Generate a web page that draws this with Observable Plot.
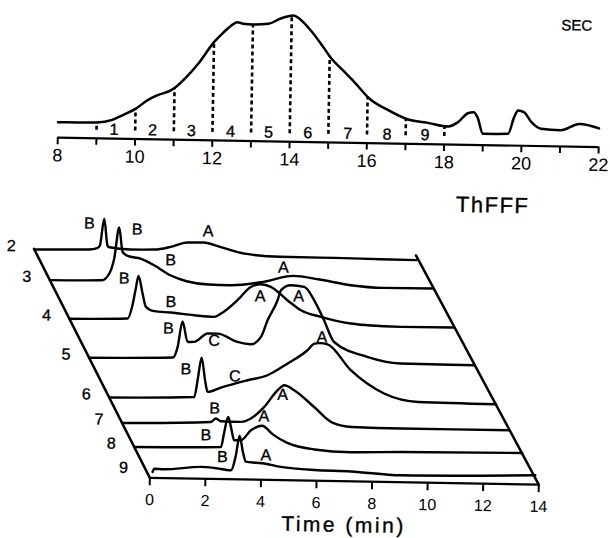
<!DOCTYPE html>
<html><head><meta charset="utf-8">
<script src="https://cdn.jsdelivr.net/npm/d3@7"></script>
<script src="https://cdn.jsdelivr.net/npm/@observablehq/plot@0.6"></script>
<style>
html,body{margin:0;padding:0;background:#fff;}
#fig{width:610px;height:538px;transform:rotate(1deg);transform-origin:305px 269px;}
#fig svg{display:block;}
</style></head><body><div id="fig"></div>
<script>
// ---------- SEC chromatogram ----------
const secTime = [8.0,8.5,9.0,9.4,9.7,10.0,10.3,10.6,10.9,11.05,11.3,11.6,12.0,12.25,12.5,12.6,12.75,13.0,13.4,13.7,14.05,14.2,14.5,14.8,15.05,15.35,15.65,16.05,16.55,17.0,17.6,18.1,18.35,18.6,18.75,18.85,19.0,19.65,19.8,19.9,20.05,20.25,20.5,21.0,21.5,22.0];
const secSignal = [15.5,15.5,15.9,18.8,24.3,30.2,38.8,44.7,49.2,53.3,62.7,76.3,98.2,108.4,116.9,118.6,117.1,116.6,117.5,122.8,126.3,123.1,111.6,96.8,83.6,72.2,60.7,44.3,33,25,21,18,22.5,31.6,32.7,27.8,11.3,11.7,28.5,35.2,33.6,23.7,17.3,16.2,22.7,18.7];
const secTickValues = [8,9,10,11,12,13,14,15,16,17,18,19,20,21,22];
const fractionBoundaries = [9,10,11,12,13,14,15,16,17,18];
const fractionNames = ["1","2","3","4","5","6","7","8","9"];
const fractionNameTime = [9.45,10.45,11.45,12.47,13.45,14.47,15.5,16.52,17.5];
const boundaryFoot = 8;
const fractionNameLevel = 9;

// ---------- ThFFF fractograms ----------
const thfffFractions = [2,3,4,5,6,7,8,9];
const thfffDepth = [226.3,195.9,157.6,119,79.6,54.4,30.6,6.6];
const boxDepth = 227;
const timeTicks = [0,2,4,6,8,10,12,14];

const row2Time = [0,1.0,2.0,2.3,2.4,2.54,2.68,2.75,3.5,4.4,5.0,5.6,6.2,6.8,7.7,9.0,11.0,12.7,14];
const row2Signal = [0,0.5,1,2.5,5,32,5,3.5,1.6,2,5,9.6,9.9,5.8,-0.5,-3,-3.2,-3.7,-4];
const row3Time = [0,1.9,2.17,2.34,2.5,2.64,2.83,3.3,3.8,4.4,5.0,5.8,6.6,7.8,8.9,9.8,11.0,12.2,14];
const row3Signal = [0,0.8,7.7,23,54,29.5,25.6,23,16.7,7,1.3,-1.6,-1.9,2,8.5,5.6,0.2,-1.9,-1.7];
const row4Time = [0,2.12,2.29,2.4,2.49,2.65,2.78,3.08,3.69,4.54,5.27,5.52,6.11,6.59,6.96,7.32,7.93,8.43,9.16,10.25,10.86,12.08,14];
const row4Signal = [0,1.3,14.7,31.4,44,26.5,13.2,9.1,8,5.7,4.4,7.9,21.5,35,37.9,35.4,22.4,12.6,6.3,0.2,-1.2,-2.3,-2];
const row5Time = [0,3.05,3.21,3.37,3.57,3.81,4.29,4.65,5.38,5.87,6.23,6.46,6.81,6.93,7.28,7.77,8.14,8.51,8.89,10.1,11.3,14];
const row5Signal = [0,1.7,12.4,38,17.5,17.7,26.3,26.4,18.4,16.3,23.8,40.6,60.8,71,76,74.6,61.4,41.6,20,5.7,-0.3,-0.8];
const row6Time = [0,3.08,3.19,3.32,3.46,3.56,4.04,5.0,5.72,6.44,7.15,7.4,7.6,7.87,8.73,9.95,11.2,14];
const row6Signal = [0,2,18.8,41.4,18.9,7.3,11.9,19.7,25,37.1,50.7,57.5,58,57,31.5,8.8,0.9,0];
const row7Time = [0,3.2,3.39,3.57,4.3,4.65,5.13,5.6,5.84,6.2,6.93,7.6,8.3,10.1,14];
const row7Signal = [0,2.5,6,3.4,3.1,6.7,18.5,35.4,40.5,35.7,19.3,4,0,-0.7,-0.6];
const row8Time = [0,3.13,3.24,3.37,3.49,3.6,3.85,4.2,4.6,4.99,5.5,6.5,7.8,9.6,14];
const row8Signal = [0,1.5,16.6,31.7,20,8.5,8.6,18.7,23.4,15,6.9,0.6,-1.5,-0.4,0.7];
const row9Time = [0.22,0.28,0.63,1.96,2.44,3.04,3.21,3.33,3.46,3.57,3.94,4.23,4.83,6.04,7.36,9.16,14];
const row9Signal = [-0.7,2.5,2.2,5.2,4.4,2.4,17.5,37.1,20.9,11.2,10.3,9.7,6.6,4.1,3.3,0.3,2.7];

const peakLabelRow = [2,2,3,3,3,4,4,4,5,5,5,6,6,6,7,7,8,8,9,9];
const peakLabelText = ["B","A","B","B","A","B","B","A","A","B","C","B","C","A","B","A","B","A","B","A"];
const peakLabelTime = [2.0,6.36,3.16,4.4,8.53,1.97,3.69,6.94,7.57,2.86,4.53,2.76,4.54,7.66,3.34,5.79,2.58,4.66,2.73,4.29];
const peakLabelHeight = [26.9,21.3,52.2,22,16.7,41.2,18.6,25.9,65.2,30.6,19.1,29.6,23.5,64,16,31,12.9,33,15.6,18];

// oblique projection of the waterfall (depth -> shift to the left, slight taper)
const SHEAR = 0.019, TAPER = 0.0000784;
const proj = (t, z) => t * (1 - TAPER * z) - SHEAR * z;

const FONT = "'Liberation Sans', Arial, Helvetica, sans-serif";
const INK = {fill: "black", stroke: "black", strokeWidth: 0.35};

// ---------- top plot ----------
const secIndex = d3.range(secTime.length);
const secAt = t => {
  const i = d3.bisectLeft(secTime, t);
  if (i <= 0) return secSignal[0];
  if (i >= secTime.length) return secSignal[secTime.length - 1];
  const t0 = secTime[i - 1], t1 = secTime[i];
  return secSignal[i - 1] + (secSignal[i] - secSignal[i - 1]) * (t - t0) / (t1 - t0);
};

const topPlot = Plot.plot({
  width: 610, height: 170,
  marginLeft: 55, marginRight: 14, marginTop: 11, marginBottom: 28.5,
  x: {domain: [8, 22]},
  y: {domain: [0, 130.5], axis: null},
  style: {fontFamily: FONT, color: "black", background: "white", overflow: "visible"},
  marks: [
    Plot.ruleY([0], {stroke: "black", strokeWidth: 2.2}),
    Plot.axisX({ticks: secTickValues, tickFormat: d => d % 2 === 0 ? String(d) : "", tickSize: 7, tickPadding: 4, fontSize: 18, label: null, strokeWidth: 2}),
    Plot.line(secIndex, {x: i => secTime[i], y: i => secSignal[i], curve: "monotone-x", stroke: "black", strokeWidth: 2.5}),
    Plot.ruleX(fractionBoundaries, {x: d => d, y1: boundaryFoot, y2: d => secAt(d), stroke: "black", strokeDasharray: "4,3", strokeWidth: 2.6}),
    Plot.text(fractionNames, {x: fractionNameTime, y: fractionNameLevel, text: d => d, fontSize: 16, ...INK}),
    Plot.text(["SEC"], {frameAnchor: "top-right", textAnchor: "middle", lineAnchor: "middle", dx: -24, dy: 9.4, fontSize: 15, ...INK})
  ]
});

// ---------- bottom plot ----------
const rowTimes = [row2Time,row3Time,row4Time,row5Time,row6Time,row7Time,row8Time,row9Time];
const rowSignals = [row2Signal,row3Signal,row4Signal,row5Signal,row6Signal,row7Signal,row8Signal,row9Signal];
const rowData = [];
thfffFractions.forEach((f, k) => {
  const z = thfffDepth[k];
  rowTimes[k].forEach((t, j) => rowData.push({fraction: f, x: proj(t, z), y: z + rowSignals[k][j]}));
});
const depthOf = f => thfffDepth[thfffFractions.indexOf(f)];
const box = [
  {side: "L", t: timeTicks[0], z: 0}, {side: "L", t: timeTicks[0], z: boxDepth},
  {side: "R", t: timeTicks[timeTicks.length - 1], z: 0}, {side: "R", t: timeTicks[timeTicks.length - 1], z: boxDepth}
];
const labelIdx = d3.range(peakLabelText.length);

const bottomPlot = Plot.plot({
  width: 610, height: 368,
  marginLeft: 153, marginRight: 68, marginTop: 8, marginBottom: 58,
  x: {domain: [0, 14]},
  y: {domain: [0, 302], axis: null},
  style: {fontFamily: FONT, color: "black", background: "white", overflow: "visible"},
  marks: [
    Plot.ruleY([0], {stroke: "black", strokeWidth: 2.2}),
    Plot.line(box, {x: d => proj(d.t, d.z), y: d => d.z, z: "side", stroke: "black", strokeWidth: 2.5}),
    Plot.axisX({ticks: timeTicks, tickSize: 8, tickPadding: 8, fontSize: 16, label: null, strokeWidth: 2}),
    Plot.line(rowData, {x: "x", y: "y", z: "fraction", curve: "monotone-x", stroke: "black", strokeWidth: 2.4}),
    Plot.text(thfffFractions, {x: (d, i) => proj(0, thfffDepth[i]), y: (d, i) => thfffDepth[i], text: d => String(d), dx: -23, dy: -3, fontSize: 16, ...INK}),
    Plot.text(labelIdx, {x: i => proj(peakLabelTime[i], depthOf(peakLabelRow[i])), y: i => depthOf(peakLabelRow[i]) + peakLabelHeight[i], text: i => peakLabelText[i], fontSize: 16, ...INK}),
    Plot.text(["ThFFF"], {frameAnchor: "top-right", textAnchor: "middle", lineAnchor: "middle", dx: -51, dy: 23.7, fontSize: 22, ...INK}),
    Plot.text(["Time (min)"], {frameAnchor: "bottom", lineAnchor: "middle", dy: 44, fontSize: 21, ...INK})
  ]
});

const fig = document.getElementById("fig");
fig.appendChild(topPlot);
fig.appendChild(bottomPlot);
d3.select(bottomPlot).selectAll("text").filter(function() { return this.textContent === "Time (min)"; }).attr("letter-spacing", "2.5px");
d3.select(bottomPlot).selectAll("text").filter(function() { return this.textContent === "ThFFF"; }).attr("letter-spacing", "1.5px");
</script>
</body></html>
